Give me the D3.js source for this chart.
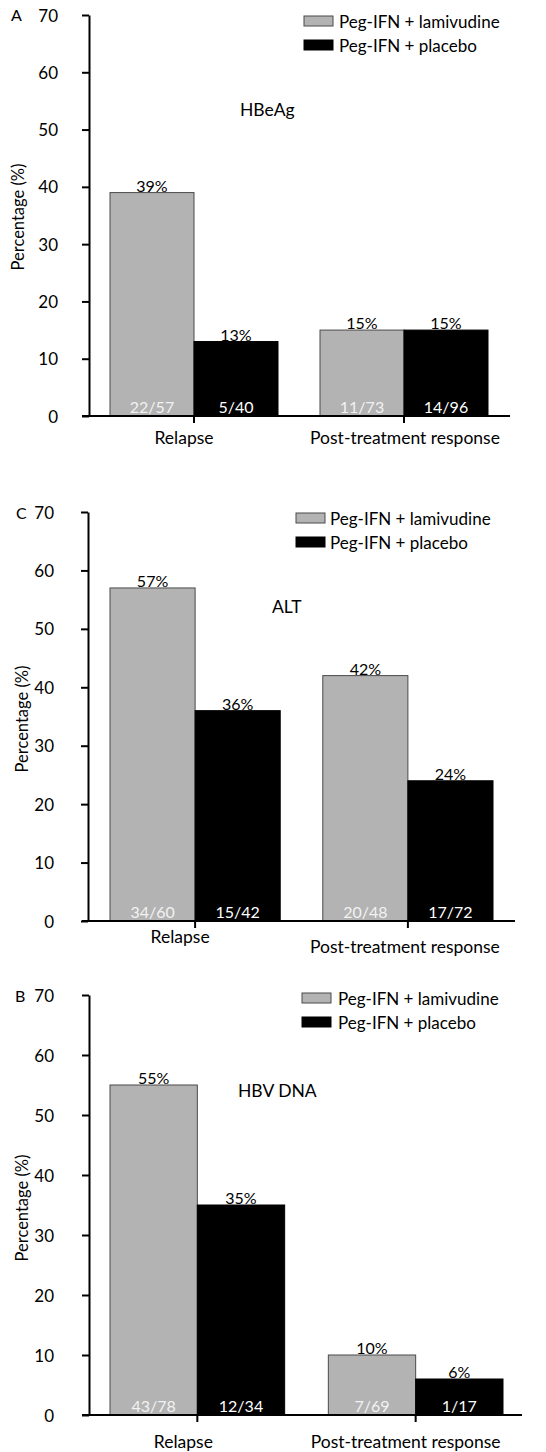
<!DOCTYPE html>
<html>
<head>
<meta charset="utf-8">
<script src="https://cdn.jsdelivr.net/npm/d3@7"></script>
<style>
  html, body { margin: 0; padding: 0; background: #fff; }
  svg { display: block; }
  text { font-family: "Gill Sans", Lato, "DejaVu Sans", sans-serif; fill: #000; }
</style>
</head>
<body>
<svg id="chart" width="546" height="1452"></svg>
<script>
// ---------- data ----------
const categories = ["Relapse", "Post-treatment response"];
const seriesNames = ["Peg-IFN + lamivudine", "Peg-IFN + placebo"];
const yTicks = [0, 10, 20, 30, 40, 50, 60, 70];

const hbeagLamivudine = [39, 15];
const hbeagPlacebo = [13, 15];
const hbeagLamivudineN = ["22/57", "11/73"];
const hbeagPlaceboN = ["5/40", "14/96"];

const altLamivudine = [57, 42];
const altPlacebo = [36, 24];
const altLamivudineN = ["34/60", "20/48"];
const altPlaceboN = ["15/42", "17/72"];

const dnaLamivudine = [55, 10];
const dnaPlacebo = [35, 6];
const dnaLamivudineN = ["43/78", "7/69"];
const dnaPlaceboN = ["12/34", "1/17"];

const panelTitles = ["HBeAg", "ALT", "HBV DNA"];
const panelLetters = ["A", "C", "B"];

// ---------- layout ----------
const panels = [
  { letter: panelLetters[0], title: panelTitles[0],
    lam: hbeagLamivudine, pla: hbeagPlacebo, lamN: hbeagLamivudineN, plaN: hbeagPlaceboN,
    yTop: 15, yBottom: 416, axisX: 89, xStart: 82, xEnd: 510, band: [110, 488],
    tickLabelX: 58, letterPos: [11, 21], titlePos: [240, 116],
    legend: [304, 16, 339], ylabel: [24, 217], catDx: [-10, 1], catDy: [28, 28] },
  { letter: panelLetters[1], title: panelTitles[1],
    lam: altLamivudine, pla: altPlacebo, lamN: altLamivudineN, plaN: altPlaceboN,
    yTop: 512, yBottom: 921, axisX: 88, xStart: 82, xEnd: 515, band: [110, 493],
    tickLabelX: 54, letterPos: [16, 519], titlePos: [272, 613],
    legend: [296, 513, 330], ylabel: [28, 719], catDx: [-15, -3], catDy: [22, 32] },
  { letter: panelLetters[2], title: panelTitles[2],
    lam: dnaLamivudine, pla: dnaPlacebo, lamN: dnaLamivudineN, plaN: dnaPlaceboN,
    yTop: 995, yBottom: 1415, axisX: 89, xStart: 82, xEnd: 522, band: [110, 503],
    tickLabelX: 54, letterPos: [15, 1002], titlePos: [238, 1097],
    legend: [302, 993, 338], ylabel: [28, 1208], catDx: [-14, -10], catDy: [33, 33] }
];

const colors = ["#b3b3b3", "#000000"];
const svg = d3.select("#chart");

panels.forEach(p => {
  const g = svg.append("g");
  const y = d3.scaleLinear().domain([0, 70]).range([p.yBottom, p.yTop]);
  const x0 = d3.scaleBand().domain(categories).range(p.band).paddingInner(0.2).paddingOuter(0);
  const x1 = d3.scaleBand().domain(seriesNames).range([0, x0.bandwidth()]);

  const rows = categories.map((c, i) => ({
    cat: c,
    vals: [
      { s: seriesNames[0], v: p.lam[i], n: p.lamN[i] },
      { s: seriesNames[1], v: p.pla[i], n: p.plaN[i] }
    ]
  }));

  // bars
  const grp = g.selectAll("g.grp").data(rows).join("g")
    .attr("transform", d => `translate(${x0(d.cat)},0)`);
  grp.selectAll("rect").data(d => d.vals).join("rect")
    .attr("x", d => x1(d.s))
    .attr("y", d => y(d.v))
    .attr("width", x1.bandwidth())
    .attr("height", d => y(0) - y(d.v))
    .attr("fill", (d, i) => colors[i])
    .attr("stroke", (d, i) => i === 0 ? "#4a4a4a" : "#000")
    .attr("stroke-width", 1);
  // value labels
  grp.selectAll("text.val").data(d => d.vals).join("text")
    .attr("class", "val")
    .attr("x", d => x1(d.s) + x1.bandwidth() / 2)
    .attr("y", d => y(d.v) - 1)
    .attr("text-anchor", "middle")
    .attr("font-size", 16)
    .text(d => d.v + "%");
  // n labels
  grp.selectAll("text.n").data(d => d.vals).join("text")
    .attr("class", "n")
    .attr("x", d => x1(d.s) + x1.bandwidth() / 2)
    .attr("y", y(0) - 3)
    .attr("text-anchor", "middle")
    .attr("font-size", 16)
    .style("fill", (d, i) => i === 0 ? "#f2f2f2" : "#ffffff")
    .text(d => d.n);

  // y axis
  const yAxis = d3.axisLeft(y).tickValues(yTicks).tickSize(7).tickSizeOuter(0).tickPadding(0);
  const ya = g.append("g").attr("transform", `translate(${p.axisX},0)`).call(yAxis);
  ya.select(".domain").attr("stroke", "#000").attr("stroke-width", 2);
  ya.selectAll(".tick line").attr("stroke", "#000").attr("stroke-width", 2);
  ya.selectAll(".tick text")
    .attr("x", p.tickLabelX - p.axisX)
    .attr("dy", "0.36em")
    .attr("font-size", 17)
    .style("font-family", '"Gill Sans", Lato, sans-serif')
    .attr("fill", "#000");

  // x axis
  g.append("line")
    .attr("x1", p.xStart).attr("x2", p.xEnd)
    .attr("y1", y(0)).attr("y2", y(0))
    .attr("stroke", "#000").attr("stroke-width", 2);
  const xAxis = d3.axisBottom(x0).tickSize(7).tickSizeOuter(0).tickFormat("");
  const xa = g.append("g").attr("transform", `translate(0,${y(0)})`).call(xAxis);
  xa.select(".domain").remove();
  xa.selectAll(".tick line").attr("stroke", "#000").attr("stroke-width", 2);

  // category labels
  g.selectAll("text.cat").data(categories).join("text")
    .attr("class", "cat")
    .attr("x", (d, i) => x0(d) + x0.bandwidth() / 2 + p.catDx[i])
    .attr("y", (d, i) => y(0) + p.catDy[i])
    .attr("text-anchor", "middle")
    .attr("font-size", 17.5)
    .text(d => d);

  // y label
  g.append("text")
    .attr("transform", `translate(${p.ylabel[0]},${p.ylabel[1]}) rotate(-90)`)
    .attr("text-anchor", "middle")
    .attr("font-size", 16.5)
    .text("Percentage (%)");

  // panel letter
  g.append("text").attr("x", p.letterPos[0]).attr("y", p.letterPos[1])
    .attr("font-size", 16).text(p.letter);

  // title
  g.append("text").attr("x", p.titlePos[0]).attr("y", p.titlePos[1])
    .attr("font-size", 17.5).text(p.title);

  // legend
  const lg = g.append("g");
  seriesNames.forEach((s, i) => {
    lg.append("rect")
      .attr("x", p.legend[0]).attr("y", p.legend[1] + i * 24)
      .attr("width", 29).attr("height", 10)
      .attr("fill", colors[i])
      .attr("stroke", i === 0 ? "#4a4a4a" : "#000").attr("stroke-width", 1);
    lg.append("text")
      .attr("x", p.legend[2]).attr("y", p.legend[1] + i * 24 + 12)
      .attr("font-size", 17)
      .text(s);
  });
});
</script>
</body>
</html>
